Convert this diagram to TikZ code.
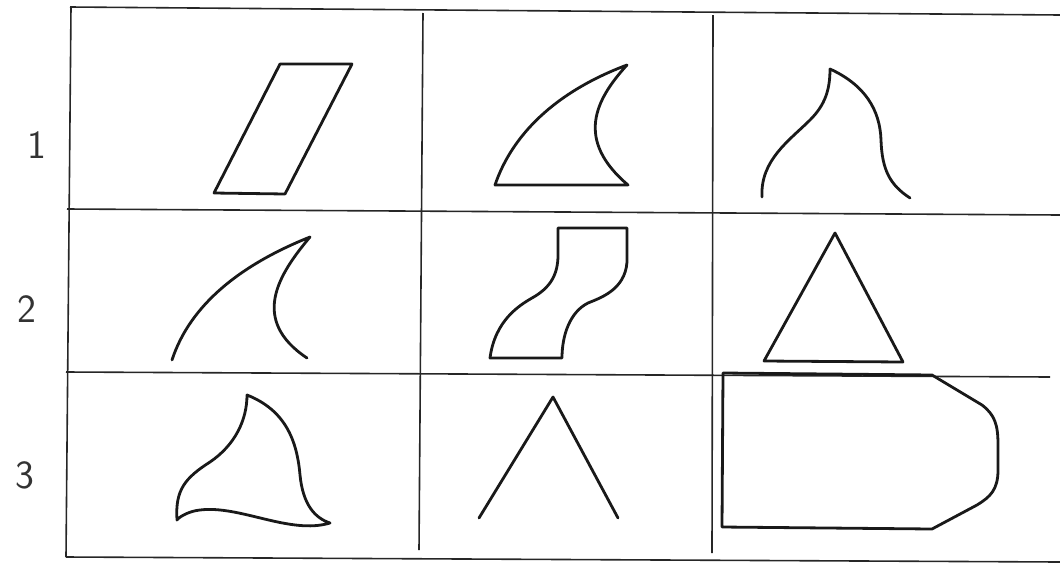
\documentclass[tikz,border=0pt]{standalone}
\usepackage{tikz}
\usetikzlibrary{positioning}
\tikzstyle{gridline} = [line width=1.6pt, black!85]
\tikzstyle{figure} = [line width=2.8pt, black!90, line join=round, line cap=round]
\tikzstyle{rowlabel} = [font=\sffamily\fontsize{40}{40}\selectfont, text=black!80, inner sep=0pt]

\begin{document}
\begin{tikzpicture}[x=1pt,y=-1pt]
\useasboundingbox (0,0) rectangle (1060,563);
% table
\draw [gridline] (70,7) -- (1060,15);
\draw [gridline] (71,7) -- (66,557);
\draw [gridline] (66,557) -- (1060,562);
\draw [gridline] (67,209) -- (1060,215);
\draw [gridline] (66,372) -- (1050,377);
\draw [gridline] (423,13) -- (419,550);
\draw [gridline] (713,15) -- (712,553);

% row numbers
\node (row1) [rowlabel] at (37,145) {1};
\node (row2) [rowlabel] at (27,309) {2};
\node (row3) [rowlabel] at (25,475) {3};

% row 1
\draw [figure] (280,64) -- (352,64) -- (285,194) -- (214,193) -- cycle;
\draw [figure] (495,185) -- (628,185)
  .. controls (575,140) and (595,100) .. (627,65)
  .. controls (555,92) and (512,135) .. (495,185) -- cycle;
\draw [figure] (762,197) .. controls (760,160) and (790,140) .. (810,120)
  .. controls (825,105) and (830,90) .. (830,69)
  .. controls (865,85) and (880,110) .. (881,140)
  .. controls (882,170) and (890,185) .. (910,198);

% row 2
\draw [figure] (172,360) .. controls (190,305) and (240,265) .. (310,237)
  .. controls (278,275) and (250,320) .. (307,358);
\draw [figure] (558,228) -- (627,228) -- (627,262)
  .. controls (625,290) and (600,298) .. (588,303)
  .. controls (570,312) and (562,335) .. (562,358)
  -- (490,358)
  .. controls (495,320) and (520,305) .. (532,298)
  .. controls (550,288) and (558,275) .. (558,255) -- cycle;
\draw [figure] (835,233) -- (903,362) -- (764,361) -- cycle;

% row 3
\draw [figure] (247,395) .. controls (285,410) and (297,440) .. (300,475)
  .. controls (303,505) and (315,518) .. (330,523)
  .. controls (290,535) and (240,505) .. (200,510)
  .. controls (190,511) and (180,516) .. (177,520)
  .. controls (175,490) and (185,478) .. (210,462)
  .. controls (235,445) and (247,420) .. (247,395) -- cycle;
\draw [figure] (479,518) -- (553,397) -- (618,518);
\draw [figure] (932,375) -- (723,373) -- (722,527) -- (932,529) -- (977,505)
  .. controls (990,497) and (998,490) .. (998,470) -- (998,445)
  .. controls (998,425) and (995,415) .. (982,405) -- cycle;
\end{tikzpicture}
\end{document}
